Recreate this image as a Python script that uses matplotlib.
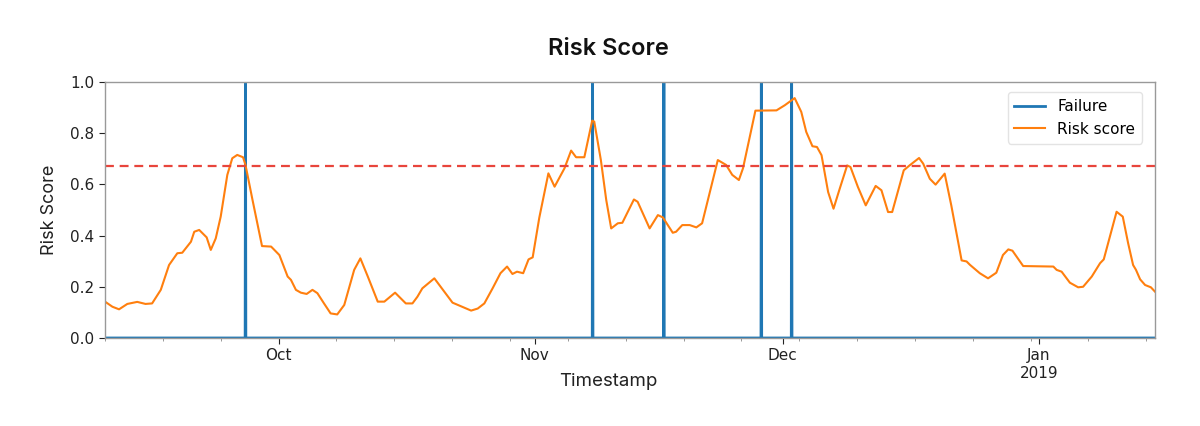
import numpy as np
import pandas as pd
import matplotlib
matplotlib.use("Agg")
import matplotlib.pyplot as plt
import matplotlib.dates as mdates
from matplotlib.ticker import FuncFormatter

# Risk score (days since 2018-09-10, score)
start = pd.Timestamp("2018-09-10")
risk_days = [0.0, 0.9, 1.7, 2.7, 3.9, 4.9, 5.7, 6.75, 7.75, 8.75, 9.35, 10.4, 10.8, 11.4,
             12.3, 12.8, 13.4, 14.0, 14.8, 15.4, 16.0, 16.7, 17.0, 17.85, 19.0, 20.1,
             21.1, 22.1, 22.5, 23.1, 23.7, 24.4, 25.1, 25.7, 26.5, 27.3, 28.1, 28.95,
             30.15, 30.9, 31.8, 33.0, 33.8, 35.1, 36.4, 37.2, 37.8, 38.4, 39.85, 42.05,
             44.3, 45.1, 45.9, 46.9, 47.85, 48.65, 49.3, 49.85, 50.6, 51.25, 51.75, 52.55,
             53.65, 54.4, 55.6, 56.4, 57.0, 58.0, 58.95, 59.2, 60.0, 60.65, 61.25, 62.05,
             62.6, 64.0, 64.45, 65.9, 66.9, 67.5, 68.7, 69.1, 69.85, 70.75, 71.55, 72.25,
             74.15, 75.15, 75.9, 76.7, 77.2, 78.7, 81.25, 82.25, 83.45, 84.25, 84.85,
             85.6, 86.15, 86.7, 87.5, 88.15, 88.9, 89.8, 90.2, 91.1, 92.05, 93.25, 93.95,
             94.75, 95.25, 96.65, 97.35, 98.5, 99.0, 99.8, 100.5, 101.6, 102.4, 103.65,
             104.25, 104.65, 105.85, 106.85, 107.85, 108.65, 109.3, 109.8, 111.1, 114.75,
             115.15, 115.75, 116.75, 117.75, 118.35, 119.4, 120.4, 120.85, 121.7, 122.4,
             123.15, 123.8, 124.4, 124.75, 125.25, 125.85, 126.55, 127.05]
risk_score = [0.142, 0.122, 0.112, 0.133, 0.141, 0.133, 0.135, 0.188, 0.285, 0.331, 0.333,
              0.376, 0.415, 0.422, 0.393, 0.344, 0.389, 0.474, 0.637, 0.702, 0.715, 0.706,
              0.676, 0.539, 0.359, 0.357, 0.324, 0.240, 0.227, 0.188, 0.177, 0.172, 0.188,
              0.175, 0.135, 0.096, 0.092, 0.129, 0.266, 0.311, 0.240, 0.142, 0.142, 0.177,
              0.135, 0.135, 0.161, 0.194, 0.233, 0.138, 0.107, 0.115, 0.135, 0.194, 0.253,
              0.279, 0.250, 0.259, 0.253, 0.307, 0.315, 0.470, 0.643, 0.591, 0.663, 0.732,
              0.706, 0.706, 0.849, 0.845, 0.695, 0.539, 0.428, 0.448, 0.450, 0.541, 0.532,
              0.428, 0.480, 0.471, 0.411, 0.415, 0.441, 0.441, 0.432, 0.448, 0.695, 0.676,
              0.637, 0.617, 0.663, 0.888, 0.889, 0.909, 0.937, 0.883, 0.805, 0.749, 0.746,
              0.714, 0.570, 0.505, 0.583, 0.674, 0.668, 0.590, 0.518, 0.594, 0.577, 0.492,
              0.492, 0.655, 0.674, 0.703, 0.681, 0.622, 0.599, 0.642, 0.518, 0.303, 0.299,
              0.286, 0.253, 0.233, 0.255, 0.324, 0.346, 0.341, 0.281, 0.279, 0.266, 0.259,
              0.216, 0.198, 0.200, 0.240, 0.292, 0.307, 0.409, 0.493, 0.474, 0.370, 0.285,
              0.266, 0.229, 0.207, 0.198, 0.181]

failure_dates = ["2018-09-27 00:00", "2018-11-08 00:00", "2018-11-16 15:00",
                 "2018-11-28 10:00", "2018-12-02 02:00"]
threshold = 0.67

risk_time = start + pd.to_timedelta(risk_days, unit="D")
end = risk_time[-1]

# failure flag: 0 everywhere, 1 at the failure hour
fail = pd.Series(0.0, index=pd.date_range(start, end, freq="h"))
for f in failure_dates:
    fail[pd.Timestamp(f)] = 1.0

fig = plt.figure(figsize=(12, 4.26), dpi=100)
ax = fig.add_axes([0.0875, 0.2066, 0.875, 0.601])

ax.plot(fail.index, fail.values, color="#1f77b4", linewidth=2, label="Failure")
ax.plot(risk_time, risk_score, color="#ff7f0e", linewidth=1.5, label="Risk score")
ax.axhline(threshold, color="#e8453c", linestyle=(0, (4, 2.6)), linewidth=1.6)

ax.set_xlim(start, end)
ax.set_ylim(0, 1.0)
ax.set_yticks(np.arange(0, 1.01, 0.2))
ax.yaxis.set_major_formatter(FuncFormatter(lambda v, p: f"{v:.1f}"))

ax.xaxis.set_major_locator(mdates.MonthLocator())
ax.xaxis.set_minor_locator(mdates.WeekdayLocator(byweekday=mdates.MO))


def month_fmt(x, pos):
    d = mdates.num2date(x)
    return d.strftime("%b") + ("\n%d" % d.year if d.month == 1 else "")


ax.xaxis.set_major_formatter(FuncFormatter(month_fmt))
ax.tick_params(axis="both", which="major", labelsize=11, colors="#222222",
               length=4, width=0.8)
ax.tick_params(axis="x", which="minor", length=2.5, width=0.6, colors="#888888")
for lab in ax.get_xticklabels():
    lab.set_horizontalalignment("center")

for s in ax.spines.values():
    s.set_color("#999999")
    s.set_linewidth(1.0)

label_font = ["Inter", "DejaVu Sans"]
ax.set_ylabel("Risk Score", fontsize=13, family=label_font, color="#222222")
ax.yaxis.set_label_coords(-0.045, 0.5)
ax.set_xlabel("Timestamp", fontsize=13.5, family=label_font, color="#222222")
ax.xaxis.set_label_coords(0.479, -0.137)
fig.text(0.507, 0.885, "Risk Score", fontsize=17, family=label_font,
         fontweight="semibold", ha="center", va="center", color="#111111")

leg = ax.legend(loc="upper right", fontsize=11, frameon=True, borderpad=0.45,
                handlelength=2.0, bbox_to_anchor=(0.995, 0.99))
leg.get_frame().set_edgecolor("#dddddd")

fig.savefig("out.png", dpi=100)
